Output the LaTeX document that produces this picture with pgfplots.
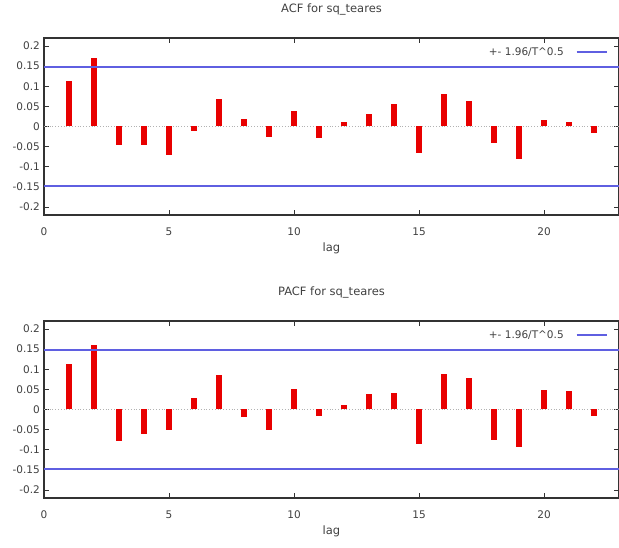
\documentclass[border=0pt]{standalone}
\usepackage{fontspec}
\setmainfont{DejaVu Sans}
\usepackage{pgfplots}
\pgfplotsset{compat=1.18}
\definecolor{bandblue}{RGB}{95,95,225}
\definecolor{barred}{RGB}{232,0,0}
\pgfplotsset{acfstyle/.style={
  scale only axis, width=575pt, height=177pt,
  xmin=0, xmax=23, ymin=-0.22, ymax=0.22,
  axis line style={black!80, line width=1.2pt},
  xtick={0,5,10,15,20}, xticklabels={0,5,10,15,20},
  ytick={-0.2,-0.15,-0.1,-0.05,0,0.05,0.1,0.15,0.2},
  yticklabels={-0.2,-0.15,-0.1,-0.05,0,0.05,0.1,0.15,0.2},
  tick align=inside, major tick length=5pt,
  tick style={black!80, line width=0.8pt},
  ticklabel style={font=\fontsize{10.5}{12}\selectfont, text=black!75},
  xticklabel style={inner sep=0pt, anchor=north, yshift=-13pt},
  yticklabel style={inner sep=0pt, anchor=east, xshift=-4pt},
  /pgf/number format/assume math mode=true,
  title style={font=\fontsize{11.5}{13}\selectfont, text=black!75, at={(axis description cs:0.5,1)}, anchor=base, inner sep=0pt, yshift=19pt},
  xlabel style={font=\fontsize{11.5}{13}\selectfont, text=black!75, at={(axis description cs:0.5,0)}, anchor=base, inner sep=0pt, yshift=-37pt},
  xlabel={lag},
  legend plot pos=right,
  legend cell align=right,
  legend style={at={(axis description cs:0.98,0.92)}, anchor=east, draw=none, fill=none, inner sep=0pt,
    font=\fontsize{10.5}{12}\selectfont, text=black!75},
  legend image code/.code={\path (0pt,0pt); \draw[#1] (10pt,0pt) -- (40pt,0pt);},
}}
\pgfplotstableread{
lag acf pacf
1 0.114 0.112
2 0.170 0.160
3 -0.047 -0.078
4 -0.045 -0.060
5 -0.072 -0.050
6 -0.012 0.029
7 0.068 0.086
8 0.018 -0.019
9 -0.025 -0.052
10 0.038 0.050
11 -0.028 -0.015
12 0.012 0.012
13 0.032 0.038
14 0.057 0.042
15 -0.067 -0.085
16 0.080 0.088
17 0.063 0.078
18 -0.040 -0.075
19 -0.082 -0.093
20 0.015 0.048
21 0.012 0.045
22 -0.015 -0.017
}\acfdata
\begin{document}
\begin{tikzpicture}[x=1pt,y=1pt]
\useasboundingbox (0,0) rectangle (619,548);
\begin{axis}[acfstyle, at={(44pt,333pt)}, anchor=south west, title={ACF for sq\_teares}]
\addplot[gray!60, dotted, line width=0.8pt, forget plot] coordinates {(0,0) (23,0)};
\addplot[barred, ycomb, line width=5.5pt, line cap=butt, forget plot] table[x=lag, y=acf] {\acfdata};
\addplot[bandblue, line width=1.6pt] coordinates {(0,0.148) (23,0.148)};
\addlegendentry{+- 1.96/T\textasciicircum 0.5}
\addplot[bandblue, line width=1.6pt, forget plot] coordinates {(0,-0.148) (23,-0.148)};
\end{axis}
\begin{axis}[acfstyle, at={(44pt,50pt)}, anchor=south west, title={PACF for sq\_teares}]
\addplot[gray!60, dotted, line width=0.8pt, forget plot] coordinates {(0,0) (23,0)};
\addplot[barred, ycomb, line width=5.5pt, line cap=butt, forget plot] table[x=lag, y=pacf] {\acfdata};
\addplot[bandblue, line width=1.6pt] coordinates {(0,0.148) (23,0.148)};
\addlegendentry{+- 1.96/T\textasciicircum 0.5}
\addplot[bandblue, line width=1.6pt, forget plot] coordinates {(0,-0.148) (23,-0.148)};
\end{axis}
\end{tikzpicture}
\end{document}
